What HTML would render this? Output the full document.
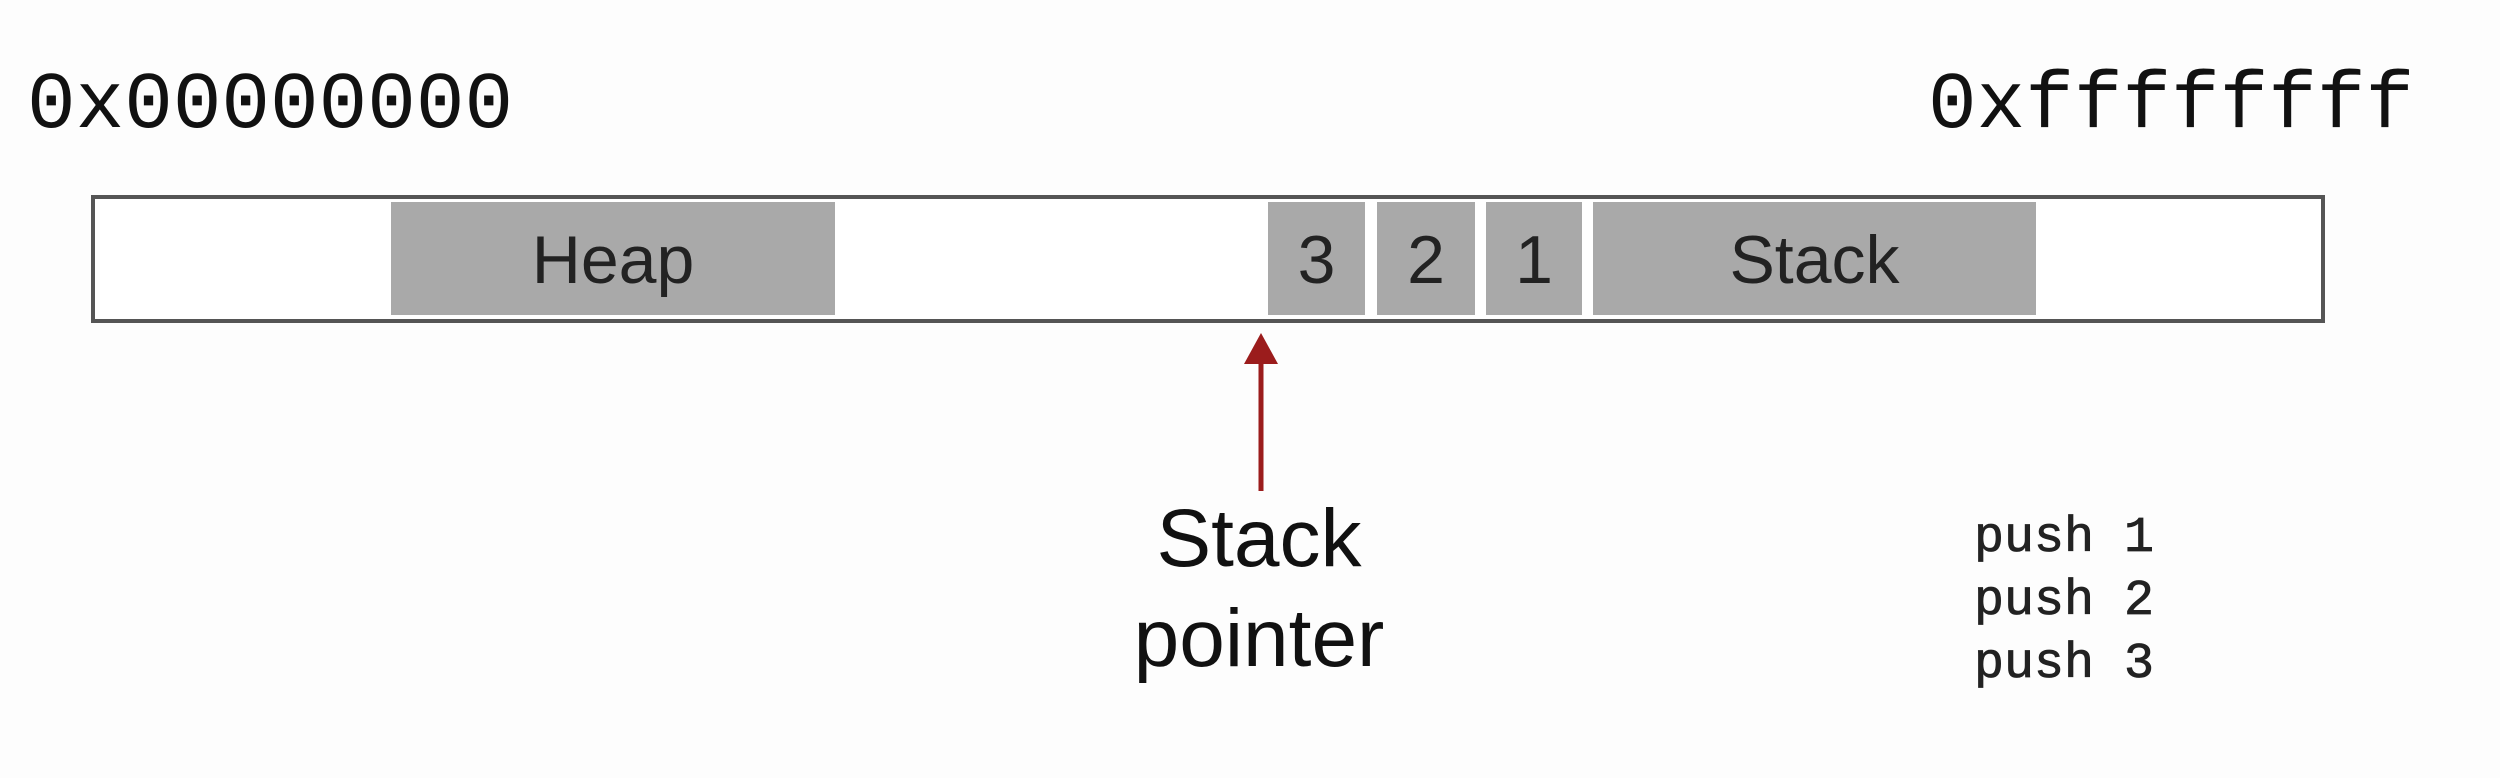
<!DOCTYPE html>
<html><head><meta charset="utf-8"><style>
html,body{margin:0;padding:0;background:#fdfdfd;}
svg{display:block}
</style></head><body>
<svg width="2500" height="778" viewBox="0 0 2500 778" xmlns="http://www.w3.org/2000/svg">
<rect x="0" y="0" width="2500" height="778" fill="#fdfdfd"/>
<text x="27" y="127" font-family="Liberation Mono, monospace" font-size="81" fill="#111">0x00000000</text>
<text x="1928" y="127" font-family="Liberation Mono, monospace" font-size="81" fill="#111">0xffffffff</text>
<rect x="93" y="197" width="2230" height="124" fill="#fff" stroke="#555" stroke-width="4"/>
<g id="blocks"></g>
<g>
<line x1="1261" y1="360" x2="1261" y2="491" stroke="#9b1c1c" stroke-width="5"/>
<polygon points="1261,333 1244,364 1278,364" fill="#9b1c1c"/>
</g>
<text x="1259" y="566" text-anchor="middle" font-family="Liberation Sans, sans-serif" font-size="82" fill="#111">Stack</text>
<text x="1259" y="666" text-anchor="middle" font-family="Liberation Sans, sans-serif" font-size="82" fill="#111">pointer</text>
<g font-family="Liberation Mono, monospace" font-size="50" fill="#222" stroke="#222" stroke-width="0.8">
<text x="1974" y="551">push 1</text>
<text x="1974" y="614">push 2</text>
<text x="1974" y="677">push 3</text>
</g>
</svg>
<script>
const blockLabels=["Heap","3","2","1","Stack"];
const blockStarts=[391,1268,1377,1486,1593];
const blockEnds=[835,1365,1475,1582,2036];
const blockNames=["heap-block","stack-item-3","stack-item-2","stack-item-1","stack-block"];
const g=document.getElementById('blocks');
const NS="http://www.w3.org/2000/svg";
for(let i=0;i<blockLabels.length;i++){
  const r=document.createElementNS(NS,'rect');
  r.setAttribute('x',blockStarts[i]);r.setAttribute('y',202);
  r.setAttribute('width',blockEnds[i]-blockStarts[i]);r.setAttribute('height',113);
  r.setAttribute('fill','#a9a9a9');
  
  
  g.appendChild(r);
  const t=document.createElementNS(NS,'text');
  t.setAttribute('x',(blockStarts[i]+blockEnds[i])/2);t.setAttribute('y',283);
  t.setAttribute('text-anchor','middle');
  t.setAttribute('font-family','Liberation Sans, sans-serif');
  t.setAttribute('font-size','68');t.setAttribute('fill','#222');
  t.textContent=blockLabels[i];
  
  
  g.appendChild(t);
}
</script>
</body></html>
